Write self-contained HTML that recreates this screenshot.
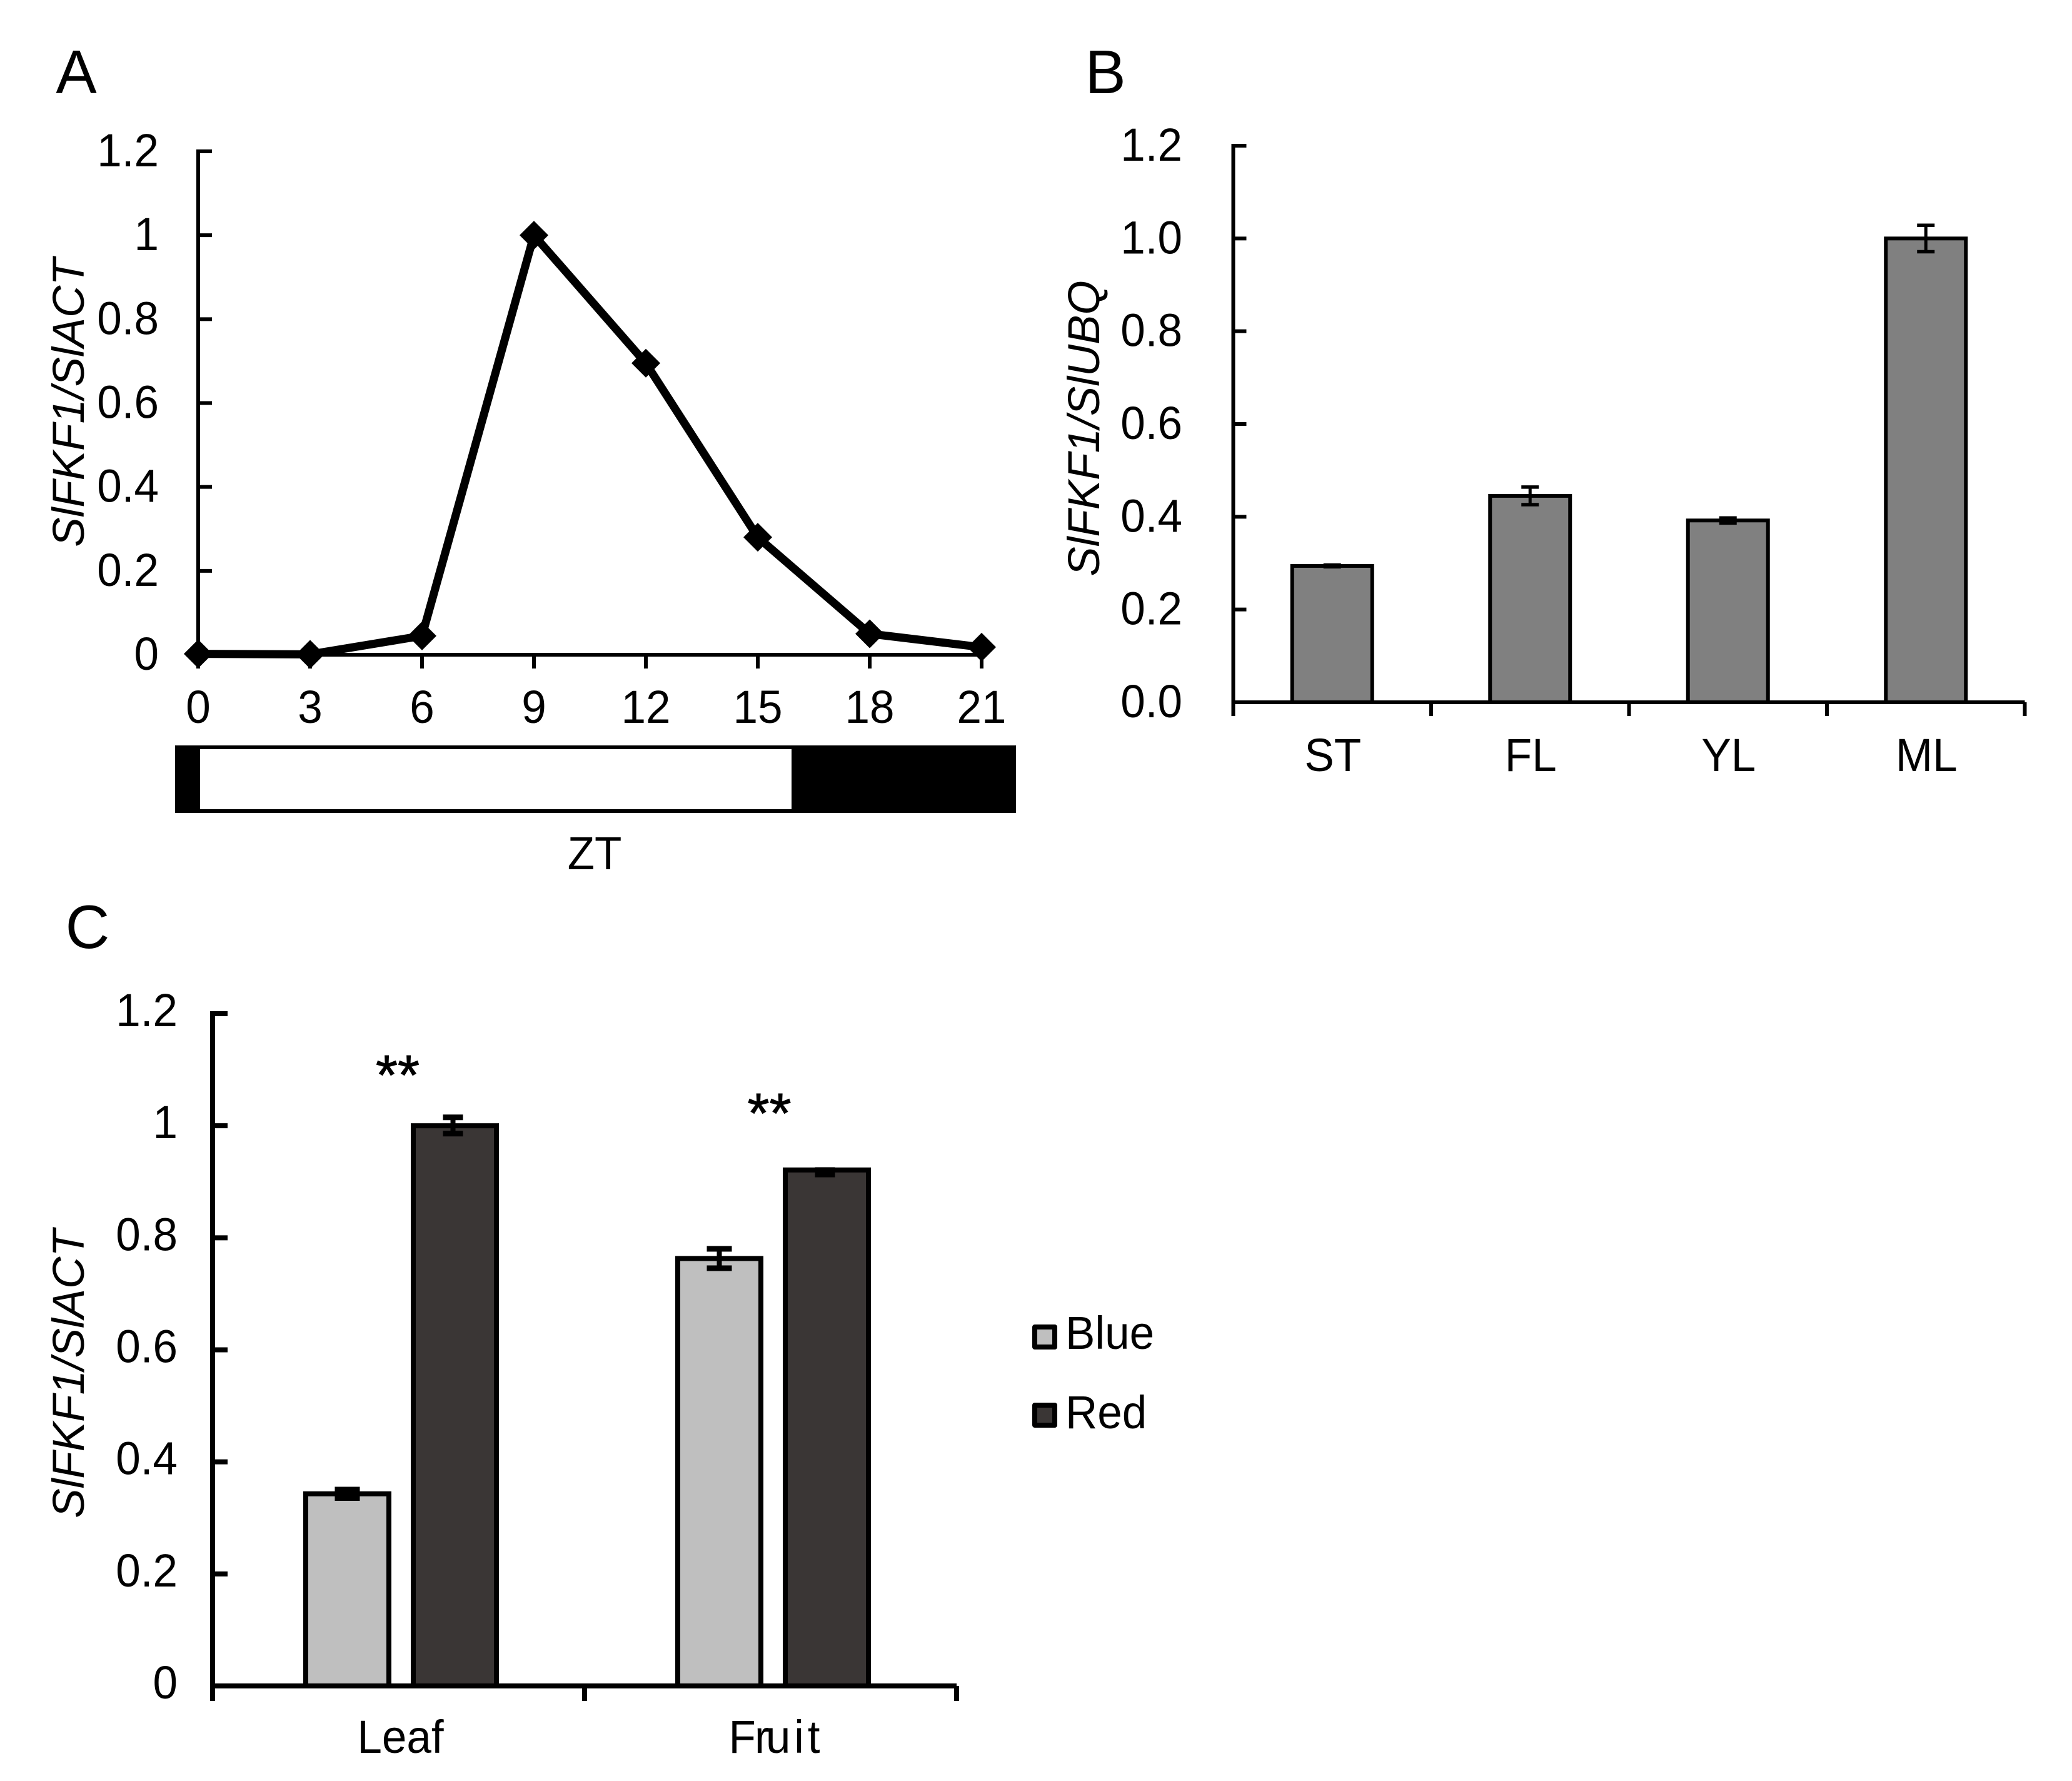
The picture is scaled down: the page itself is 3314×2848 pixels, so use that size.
<!DOCTYPE html>
<html lang="en">
<head>
<meta charset="utf-8">
<title>SlFKF1 expression charts</title>
<style>
html,body{margin:0;padding:0;background:#fff;width:3314px;height:2848px;overflow:hidden}
svg{display:block}
text{font-family:"Liberation Sans",sans-serif;fill:#000}
</style>
</head>
<body>
<svg id="fig" xmlns="http://www.w3.org/2000/svg" width="3314" height="2848" viewBox="0 0 3314 2848">
<rect x="0" y="0" width="3314" height="2848" fill="#fff"/>
</svg>
<script>
// Panel A
const aCategories = ['0','3','6','9','12','15','18','21'];
const aValues = [0.002,0.001,0.045,1,0.695,0.28,0.05,0.018];
const aTicks = ['0','0.2','0.4','0.6','0.8','1','1.2'];
// Panel B
const bCategories = ['ST','FL','YL','ML'];
const bValues = [0.294,0.445,0.392,1.0];
const bErrors = [0.002,0.019,0.0055,0.0285];
const bTicks = ['0.0','0.2','0.4','0.6','0.8','1.0','1.2'];
// Panel C
const cCategories = ['Leaf','Fruit'];
const cBlue = [0.343,0.763];
const cRed = [1.0,0.921];
const cBlueErrors = [0.0075,0.0173];
const cRedErrorsUp = [0.015,0];
const cRedErrorsDown = [0.014,0.008];
const cTicks = ['0','0.2','0.4','0.6','0.8','1','1.2'];

const svg = document.getElementById('fig');
const NS = 'http://www.w3.org/2000/svg';
function mk(tag, name, attrs, txt) {
  const el = document.createElementNS(NS, tag);
  
  
  for (const k in attrs) el.setAttribute(k, attrs[k]);
  if (txt !== undefined) el.textContent = txt;
  svg.appendChild(el);
  return el;
}
function line(name, x1, y1, x2, y2, w) {
  return mk('line', name, {x1, y1, x2, y2, stroke: '#000', 'stroke-width': w});
}
function txt(name, x, y, s, size, anchor, sx, extra) {
  const sc = sx === undefined ? 0.96 : sx;
  return mk('text', name, Object.assign({x: 0, y: 0, transform: `translate(${x},${y}) scale(${sc},1)`, 'font-size': size, 'text-anchor': anchor || 'middle'}, extra || {}), s);
}
function yAxis(prefix, x, y0, y12, ticks, labelX, w, tickLen, labelDy) {
  const sc = v => y0 + (y12 - y0) * v / 1.2;
  line(prefix + '-y-axis', x, y12 - w / 2, x, y0 + w / 2, w);
  ticks.forEach(t => {
    const y = sc(parseFloat(t));
    line(prefix + '-y-tick', x, y, x + tickLen, y, w);
    txt(prefix + '-y-tick-label', labelX, y + labelDy, t, 74, 'end');
  });
  return sc;
}
function errorBar(name, cx, top, bottom, capW, w, capT) {
  line(name, cx, top, cx, bottom, w);
  line(name + '-cap', cx - capW, top, cx + capW, top, capT);
  line(name + '-cap', cx - capW, bottom, cx + capW, bottom, capT);
}
function bar(name, cx, w, yTop, y0, fill, sw) {
  mk('rect', name, {x: cx - w / 2, y: yTop, width: w, height: y0 - yTop, fill, stroke: '#000', 'stroke-width': sw});
}

// ---- Panel A ----
txt('panel-a-label', 122, 149, 'A', 98, 'middle', 1);
{
  const x0 = 317, x21 = 1570, y0 = 1047, y12 = 242;
  const xs = i => x0 + (x21 - x0) * i / (aCategories.length - 1);
  const ys = yAxis('a', x0, y0, y12, aTicks, 254, 6, 22, 24);
  line('a-x-axis', x0, y0, x21, y0, 6);
  aCategories.forEach((c, i) => {
    line('a-x-tick', xs(i), y0, xs(i), y0 + 22, 6);
    txt('a-x-tick-label', xs(i), 1156, c, 74);
  });
  mk('polyline', 'a-series-line', {
    points: aValues.map((v, i) => xs(i) + ',' + ys(v)).join(' '),
    fill: 'none', stroke: '#000', 'stroke-width': 13, 'stroke-linejoin': 'round'
  });
  aValues.forEach((v, i) => {
    const cx = xs(i), cy = ys(v), r = 23;
    mk('polygon', 'a-point', {points: `${cx},${cy - r} ${cx + r},${cy} ${cx},${cy + r} ${cx - r},${cy}`, fill: '#000'});
  });
  txt('a-y-axis-title', 0, 0, 'SlFKF1/SlACT', 71, 'middle', 1, {transform: 'translate(134,644) rotate(-90)', 'font-style': 'italic'});
  mk('rect', 'night-bar', {x: 280, y: 1192, width: 1345, height: 108, fill: '#000'});
  mk('rect', 'day-bar', {x: 320, y: 1198, width: 946, height: 96, fill: '#fff'});
  txt('a-x-axis-title', 951, 1390, 'ZT', 74);
}

// ---- Panel B ----
txt('panel-b-label', 1768, 149, 'B', 98, 'middle', 1);
{
  const x0 = 1972.5, x1 = 3238.5, y0 = 1123, y12 = 233;
  const ys = yAxis('b', x0, y0, y12, bTicks, 1891, 6, 21, 24);
  line('b-x-axis', x0, y0, x1, y0, 6);
  const n = bCategories.length;
  const xc = i => x0 + (x1 - x0) * (i + 0.5) / n;
  for (let i = 0; i <= n; i++) {
    const x = x0 + (x1 - x0) * i / n;
    line('b-x-tick', x, y0, x, y0 + 22, 6);
  }
  bCategories.forEach((c, i) => {
    bar('b-bar', xc(i), 128, ys(bValues[i]), y0, '#808080', 6);
    errorBar('b-error', xc(i), ys(bValues[i] + bErrors[i]), ys(bValues[i] - bErrors[i]), 14, 5, 5.5);
    txt('b-x-tick-label', xc(i) + 1, 1233, c, 74);
  });
  txt('b-y-axis-title', 0, 0, 'SlFKF1/SlUBQ', 71, 'middle', 1, {transform: 'translate(1758,685) rotate(-90)', 'font-style': 'italic'});
}

// ---- Panel C ----
txt('panel-c-label', 140, 1516, 'C', 98, 'middle', 1);
{
  const x0 = 340, x1 = 1530, y0 = 2696, y12 = 1621;
  const ys = yAxis('c', x0, y0, y12, cTicks, 284, 8, 24, 20);
  line('c-x-axis', x0, y0, x1, y0, 8);
  const n = cCategories.length;
  const xc = i => x0 + (x1 - x0) * (i + 0.5) / n;
  for (let i = 0; i <= n; i++) {
    const x = x0 + (x1 - x0) * i / n;
    line('c-x-tick', x, y0, x, y0 + 24, 8);
  }
  const bw = 133, off = 86, shift = 4;
  const capsBlue = 20, capsRed = 16;
  cCategories.forEach((c, i) => {
    const b = xc(i) + shift - off, r = xc(i) + shift + off;
    bar('c-bar-blue', b, bw, ys(cBlue[i]), y0, '#bfbfbf', 8);
    bar('c-bar-red', r, bw, ys(cRed[i]), y0, '#3a3635', 8);
    errorBar('c-error-blue', b, ys(cBlue[i] + cBlueErrors[i]), ys(cBlue[i] - cBlueErrors[i]), capsBlue, 8, 9);
    errorBar('c-error-red', r - 3, ys(cRed[i] + cRedErrorsUp[i]), ys(cRed[i] - cRedErrorsDown[i]), capsRed, 8, 9);
  });
  txt('c-x-tick-label', xc(0) + 3, 2803, cCategories[0], 74);
  txt('c-x-tick-label', xc(1) + 6, 2803, cCategories[1], 74, 'middle', 0.96, {dx: '0 -2 -6 6 6'});
  txt('significance-leaf', 636, 1750, '**', 90, 'middle', 1, {stroke: '#000', 'stroke-width': 1});
  txt('significance-fruit', 1230.5, 1811, '**', 90, 'middle', 1, {stroke: '#000', 'stroke-width': 1});
  txt('c-y-axis-title', 0, 0, 'SlFKF1/SlACT', 71, 'middle', 1, {transform: 'translate(134,2197) rotate(-90)', 'font-style': 'italic'});
  mk('rect', 'legend-swatch-blue', {x: 1655, y: 2122, width: 32, height: 32, fill: '#bfbfbf', stroke: '#000', 'stroke-width': 8, 'stroke-linejoin': 'round'});
  txt('legend-label-blue', 1704, 2157, 'Blue', 74, 'start');
  mk('rect', 'legend-swatch-red', {x: 1655, y: 2247, width: 32, height: 32, fill: '#3a3635', stroke: '#000', 'stroke-width': 8, 'stroke-linejoin': 'round'});
  txt('legend-label-red', 1704, 2284, 'Red', 74, 'start');
}
</script>
</body>
</html>
